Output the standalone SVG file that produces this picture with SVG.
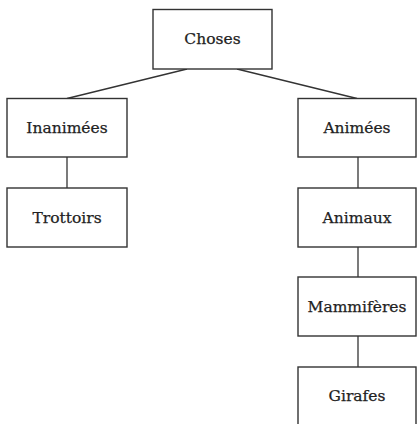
<svg xmlns="http://www.w3.org/2000/svg" width="417" height="424" viewBox="0 0 417 424">
<style>
.box{fill:#fff;stroke:#333;stroke-width:1.4}
.lbl{font-family:"DejaVu Serif","Liberation Serif",serif;font-size:15.5px;fill:#222;stroke:#222;stroke-width:0.25;text-anchor:middle;dominant-baseline:central}
.edge{stroke:#333;stroke-width:1.3;fill:none}
</style>
<rect width="417" height="424" fill="#fff"/>
<g id="edges">
<line class="edge" x1="187" y1="69" x2="67" y2="98.5"/>
<line class="edge" x1="237" y1="69" x2="357" y2="98.5"/>
<line class="edge" x1="67" y1="157" x2="67" y2="188"/>
<line class="edge" x1="358" y1="157" x2="358" y2="188"/>
<line class="edge" x1="358" y1="247" x2="358" y2="277"/>
<line class="edge" x1="358" y1="336" x2="358" y2="367"/>
</g>
<g id="choses"><rect class="box" x="153" y="9.5" width="119" height="59.5"/><text class="lbl" x="212.5" y="39">Choses</text></g>
<g id="inanimees"><rect class="box" x="7" y="98.5" width="120" height="58.5"/><text class="lbl" x="67" y="128">Inanimées</text></g>
<g id="trottoirs"><rect class="box" x="7" y="188" width="120" height="59"/><text class="lbl" x="67" y="217.5">Trottoirs</text></g>
<g id="animees"><rect class="box" x="298" y="98.5" width="118" height="58.5"/><text class="lbl" x="357" y="128">Animées</text></g>
<g id="animaux"><rect class="box" x="298" y="188" width="118" height="59"/><text class="lbl" x="357" y="217.5">Animaux</text></g>
<g id="mammiferes"><rect class="box" x="298" y="277" width="118" height="59"/><text class="lbl" x="357" y="306.5">Mammifères</text></g>
<g id="girafes"><rect class="box" x="298" y="367" width="118" height="59"/><text class="lbl" x="357" y="396">Girafes</text></g>
</svg>
